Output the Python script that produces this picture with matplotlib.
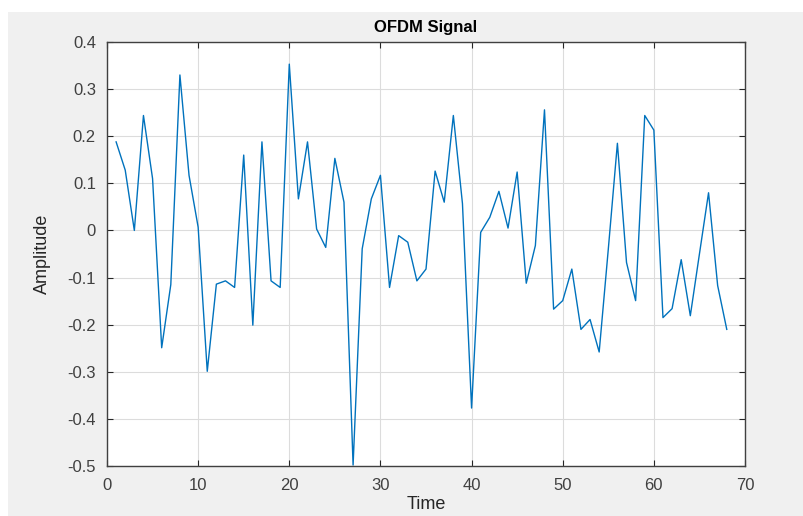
import matplotlib.pyplot as plt
import numpy as np
from matplotlib.patches import Rectangle

# OFDM 信号 (读图估计的采样值)
t = np.arange(1, 69)
amp = [0.188, 0.128, 0.0, 0.244, 0.11, -0.249, -0.115, 0.33, 0.117, 0.007,
       -0.299, -0.114, -0.107, -0.121, 0.16, -0.201, 0.188, -0.107, -0.121, 0.353,
       0.067, 0.188, 0.003, -0.036, 0.153, 0.06, -0.498, -0.039, 0.067, 0.117,
       -0.121, -0.011, -0.025, -0.107, -0.082, 0.126, 0.06, 0.244, 0.057, -0.377,
       -0.004, 0.028, 0.083, 0.005, 0.124, -0.112, -0.032, 0.256, -0.167, -0.149,
       -0.082, -0.21, -0.189, -0.258, -0.04, 0.185, -0.068, -0.149, 0.244, 0.213,
       -0.185, -0.166, -0.062, -0.181, -0.05, 0.08, -0.117, -0.21]
xticks = np.arange(0, 71, 10)
yticks = np.round(np.arange(-0.5, 0.41, 0.1), 1)
ylabels = ['-0.5', '-0.4', '-0.3', '-0.2', '-0.1', '0', '0.1', '0.2', '0.3', '0.4']

plt.rcParams['font.family'] = ['Liberation Sans', 'DejaVu Sans']

fig = plt.figure(figsize=(8.04, 5.16), dpi=100)
fig.patch.set_facecolor('white')
# 灰色背景面板
bg = Rectangle((8 / 804, 0), 1, 1 - 12 / 516, transform=fig.transFigure,
               facecolor='#f0f0f0', edgecolor='none')
bg.set_zorder(-10)
fig.add_artist(bg)

ax = fig.add_axes([107 / 804, 1 - 466 / 516, (745 - 107) / 804, (466 - 42) / 516])
ax.set_zorder(5)
ax.set_facecolor('white')
ax.plot(t, amp, color='#0072BD', lw=1.0)

ax.set_xlim(0, 70)
ax.set_ylim(-0.5, 0.4)
ax.set_xticks(xticks)
ax.set_yticks(yticks)
ax.set_yticklabels(ylabels)
ax.grid(True, color='#dcdcdc', lw=0.8)
ax.set_axisbelow(True)
ax.tick_params(direction='in', top=True, right=True, length=4, width=0.8,
               colors='#262626', labelsize=12, labelcolor='#404040')
ax.tick_params(axis='x', pad=9)
ax.tick_params(axis='y', pad=8)
for s in ax.spines.values():
    s.set_color('#404040')
    s.set_linewidth(1.0)

ax.set_title('OFDM Signal', fontsize=12, fontweight='bold', color='black', pad=7)
ax.set_xlabel('Time', fontsize=13, color='#262626', labelpad=2)
ax.set_ylabel('Amplitude', fontsize=13, color='#262626', labelpad=12)

fig.savefig('out.png', dpi=100, facecolor=fig.get_facecolor())
